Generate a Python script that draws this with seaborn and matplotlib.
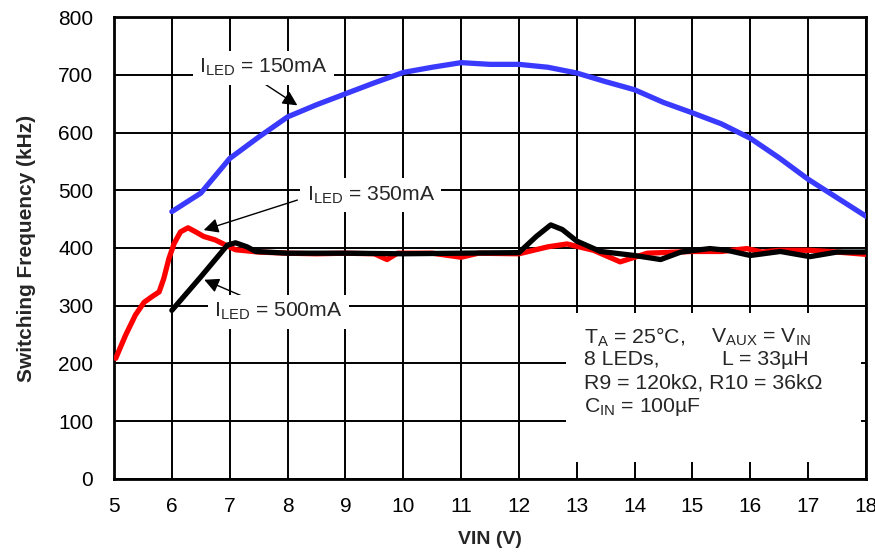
import matplotlib
matplotlib.use("Agg")
import matplotlib.pyplot as plt
from matplotlib.patches import Rectangle
import pandas as pd
import seaborn as sns

# Switching frequency vs. input voltage for three LED currents
vin_150 = [6.0, 6.5, 7.0, 7.5, 8.0, 8.5, 9.0, 9.5, 10.0, 10.5, 11.0, 11.5, 12.0,
           12.5, 13.0, 13.5, 14.0, 14.5, 15.0, 15.5, 16.0, 16.5, 17.0, 17.5, 18.0]
fsw_150 = [463, 495, 555, 592, 627, 648, 667, 686, 704, 713, 721, 718, 718,
           713, 703, 688, 674, 652, 634, 615, 590, 556, 519, 487, 455]

vin_350 = [5.03, 5.2, 5.37, 5.52, 5.66, 5.78, 5.86, 5.95, 6.04, 6.15, 6.28, 6.41,
           6.55, 6.75, 6.93, 7.1, 7.5, 8.0, 8.5, 9.0, 9.5, 9.72, 9.9, 10.5, 11.0,
           11.3, 12.0, 12.5, 12.83, 13.29, 13.75, 14.22, 15.0, 15.5, 15.94, 16.2,
           16.5, 17.03, 17.5, 18.0]
fsw_350 = [209, 249, 284, 306, 316, 324, 347, 382, 408, 428, 435, 428,
           420, 414, 405, 397, 393, 391, 390, 391, 390, 380, 391, 391, 384,
           391, 390, 402, 407, 396, 376, 391, 394, 394, 399, 393,
           396, 396, 393, 389]

vin_500 = [6.0, 6.5, 6.96, 7.1, 7.3, 7.45, 8.0, 9.0, 10.0, 11.0, 12.0, 12.3, 12.55,
           12.75, 13.0, 13.41, 14.0, 14.45, 14.8, 15.3, 15.6, 16.0, 16.52, 17.03,
           17.5, 18.0]
fsw_500 = [292, 350, 405, 409, 402, 394, 391, 391, 390, 391, 392, 420, 440,
           432, 412, 394, 387, 380, 393, 399, 396, 387, 394, 385,
           393, 393]

x_ticks = list(range(5, 19))
y_ticks = list(range(0, 801, 100))

sns.set_theme(style="white")
plt.rcParams["font.family"] = ["Liberation Sans", "DejaVu Sans"]
plt.rcParams["mathtext.fontset"] = "custom"
plt.rcParams["mathtext.rm"] = "Liberation Sans"
plt.rcParams["mathtext.it"] = "Liberation Sans:italic"
plt.rcParams["mathtext.bf"] = "Liberation Sans:bold"

fig = plt.figure(figsize=(8.75, 5.54), dpi=100)
ax = fig.add_axes([0.1303, 0.1354, 0.8594, 0.8339])

df = pd.concat([
    pd.DataFrame({"vin": vin_150, "fsw": fsw_150, "iled": "150mA"}),
    pd.DataFrame({"vin": vin_350, "fsw": fsw_350, "iled": "350mA"}),
    pd.DataFrame({"vin": vin_500, "fsw": fsw_500, "iled": "500mA"}),
])
palette = {"150mA": "#3a3aff", "350mA": "#ff0000", "500mA": "#000000"}
for name in ["150mA", "350mA", "500mA"]:
    sub = df[df["iled"] == name]
    line = sns.lineplot(data=sub, x="vin", y="fsw", color=palette[name], lw=3.8,
                        ax=ax, sort=False, estimator=None, zorder=3)
for ln in ax.lines:
    ln.set_solid_joinstyle("round")
    ln.set_solid_capstyle("round")

ax.set_xlim(5, 18)
ax.set_ylim(0, 800)
ax.set_xticks(x_ticks)
ax.set_yticks(y_ticks)
ax.tick_params(axis="both", length=0, labelsize=15, colors="black")
ax.tick_params(axis="x", pad=13)
ax.tick_params(axis="y", pad=15)
ax.set_axisbelow(True)
ax.grid(True, color="black", lw=1.4)
for s in ax.spines.values():
    s.set_color("black")
    s.set_linewidth(2.0)

ax.set_xlabel("VIN (V)", fontsize=14, fontweight="bold", labelpad=11)
ax.set_ylabel("Switching Frequency (kHz)", fontsize=15, fontweight="bold", labelpad=16)

# White panel holding the test conditions
ax.add_patch(Rectangle((12.82, 29), 5.1, 258, facecolor="white", edgecolor="none", zorder=1))
cond_fs = 15.3
ax.text(13.12, 246, r"T$_\mathrm{A}$ = 25°C,", fontsize=cond_fs, va="center", ha="left", zorder=4)
ax.text(17.05, 246, r"V$_\mathrm{AUX}$ = V$_\mathrm{IN}$", fontsize=cond_fs, va="center", ha="right", zorder=4)
ax.text(13.12, 207, "8 LEDs,", fontsize=cond_fs, va="center", ha="left", zorder=4)
ax.text(17.0, 207, "L = 33µH", fontsize=cond_fs, va="center", ha="right", zorder=4)
ax.text(13.12, 166, "R9 = 120kΩ, R10 = 36kΩ", fontsize=cond_fs, va="center", ha="left", zorder=4)
ax.text(13.12, 125, r"C$_\mathrm{IN}$ = 100µF", fontsize=cond_fs, va="center", ha="left", zorder=4)

# Curve labels with arrows
arrow = dict(arrowstyle="-|>", color="black", lw=1.0, mutation_scale=22,
             shrinkA=0, shrinkB=0)
box = dict(boxstyle="square,pad=0.3", facecolor="white", edgecolor="none")
lab_fs = 15.2
ax.annotate("", xy=(8.17, 647), xytext=(7.5, 691), arrowprops=arrow, zorder=4)
ax.text(7.58, 712, r"I$_\mathrm{LED}$ = 150mA", fontsize=lab_fs, ha="center", va="center",
        bbox=box, zorder=5)
ax.annotate("", xy=(6.55, 431), xytext=(8.17, 483), arrowprops=arrow, zorder=4)
ax.text(9.44, 492, r"I$_\mathrm{LED}$ = 350mA", fontsize=lab_fs, ha="center", va="center",
        bbox=box, zorder=5)
ax.annotate("", xy=(6.56, 345), xytext=(7.37, 310), arrowprops=arrow, zorder=4)
ax.text(7.84, 290, r"I$_\mathrm{LED}$ = 500mA", fontsize=lab_fs, ha="center", va="center",
        bbox=box, zorder=5)

fig.savefig("out.png", dpi=100, facecolor="white")
